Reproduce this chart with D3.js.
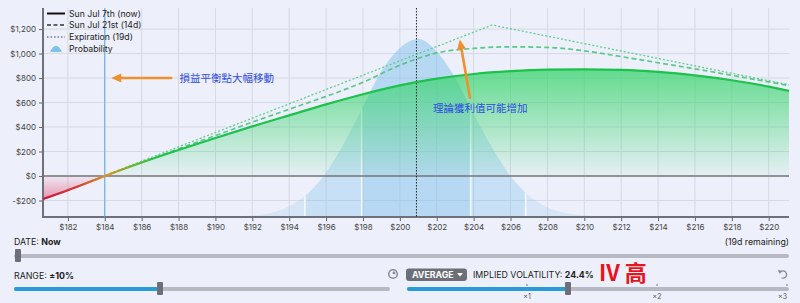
<!DOCTYPE html>
<html>
<head>
<meta charset="utf-8">
<script src="https://cdn.jsdelivr.net/npm/d3@7/dist/d3.min.js"></script>
<style>
  body { margin: 0; background: #edf0fa; font-family: Inter, "Noto Sans", sans-serif; }
  svg { display: block; }
</style>
</head>
<body>
<svg id="chart" width="800" height="303"></svg>
<script>
// P&L (USD)
const prices = [180.65, 182, 184, 186, 188, 190, 192, 194, 196, 198, 200, 202, 204, 206, 208, 210, 212, 214, 216, 218, 220, 221.1];
const pnlNow = [-188, -116, 0, 110, 212, 310, 405, 495, 585, 668, 740, 795, 833, 856, 868, 870, 866, 850, 822, 782, 730, 695];
const pnl14d = [-188, -114, 0, 112, 222, 330, 440, 545, 650, 765, 905, 1005, 1042, 1055, 1050, 1022, 975, 925, 875, 822, 768, 738];
const expPrices = [180.65, 205, 221.1];
const pnlExp = [-192, 1233, 745];

// probability curve (relative height)
const probPrices = [191, 192, 193, 194, 195, 196, 197, 198, 199, 200, 201, 202, 203, 204, 205, 206, 207, 208, 209, 210, 211];
const probValues = [0.003, 0.008, 0.022, 0.06, 0.13, 0.25, 0.42, 0.62, 0.82, 0.95, 1.0, 0.93, 0.78, 0.58, 0.39, 0.23, 0.12, 0.055, 0.022, 0.008, 0.003];
const bandEdges = [194.85, 197.93, 203.84, 206.82];

const xTicks = [182, 184, 186, 188, 190, 192, 194, 196, 198, 200, 202, 204, 206, 208, 210, 212, 214, 216, 218, 220];
const yTicks = [-200, 0, 200, 400, 600, 800, 1000, 1200];
const xDomain = [180.65, 221.1];
const yDomain = [-335, 1372];
const spotPrice = 200.9;
const breakEven = 184;
const legendLabels = ['Sun Jul 7th (now)', 'Sun Jul 21st (14d)', 'Expiration (19d)', 'Probability'];

const pL = 43, pR = 789, pT = 8, pB = 217;

const svg = d3.select('#chart');
const defs = svg.append('defs');

const x = d3.scaleLinear().domain(xDomain).range([pL, pR]);
const y = d3.scaleLinear().domain(yDomain).range([pB, pT]);
const yp = d3.scaleLinear().domain([0, 1]).range([pB, 39]);

const nowData = prices.map((p, i) => ({p, v: pnlNow[i]}));
const d14Data = prices.map((p, i) => ({p, v: pnl14d[i]}));
const expData = expPrices.map((p, i) => ({p, v: pnlExp[i]}));
const probData = probPrices.map((p, i) => ({p, v: probValues[i]}));

// grid
const grid = svg.append('g');
grid.selectAll('.gx').data(xTicks).enter().append('line')
  .attr('x1', d => x(d)).attr('x2', d => x(d))
  .attr('y1', pT).attr('y2', pB)
  .attr('stroke', '#d6d9e6').attr('stroke-width', 1);
grid.selectAll('.gy').data(yTicks).enter().append('line')
  .attr('x1', pL).attr('x2', pR)
  .attr('y1', d => y(d)).attr('y2', d => y(d))
  .attr('stroke', '#d6d9e6').attr('stroke-width', 1);

// probability distribution
const probArea = d3.area()
  .x(d => x(d.p)).y0(pB).y1(d => yp(d.v))
  .curve(d3.curveMonotoneX);
defs.append('clipPath').attr('id', 'probClip')
  .append('path').attr('d', probArea(probData));

const bands = [
  [xDomain[0], bandEdges[0], 0.2],
  [bandEdges[0], bandEdges[1], 0.34],
  [bandEdges[1], bandEdges[2], 0.5],
  [bandEdges[2], bandEdges[3], 0.34],
  [bandEdges[3], xDomain[1], 0.2]
];
const prob = svg.append('g').attr('clip-path', 'url(#probClip)');
prob.selectAll('rect').data(bands).enter().append('rect')
  .attr('x', d => x(d[0])).attr('width', d => x(d[1]) - x(d[0]))
  .attr('y', pT).attr('height', pB - pT)
  .attr('fill', '#7fc0ea').attr('fill-opacity', d => d[2]);
prob.selectAll('line').data(bandEdges).enter().append('line')
  .attr('x1', d => x(d)).attr('x2', d => x(d))
  .attr('y1', pT).attr('y2', pB)
  .attr('stroke', '#fff').attr('stroke-width', 1.5).attr('stroke-opacity', 0.85);

// P&L fill
const gGreen = defs.append('linearGradient').attr('id', 'greenFill')
  .attr('gradientUnits', 'userSpaceOnUse')
  .attr('x1', 0).attr('x2', 0).attr('y1', y(870)).attr('y2', y(0));
gGreen.append('stop').attr('offset', 0).attr('stop-color', '#35d46a').attr('stop-opacity', 0.75);
gGreen.append('stop').attr('offset', 1).attr('stop-color', '#35d46a').attr('stop-opacity', 0.04);
const gRed = defs.append('linearGradient').attr('id', 'redFill')
  .attr('gradientUnits', 'userSpaceOnUse')
  .attr('x1', 0).attr('x2', 0).attr('y1', y(0)).attr('y2', y(-190));
gRed.append('stop').attr('offset', 0).attr('stop-color', '#e8305a').attr('stop-opacity', 0.04);
gRed.append('stop').attr('offset', 1).attr('stop-color', '#e0204f').attr('stop-opacity', 0.45);

defs.append('clipPath').attr('id', 'posClip').append('rect')
  .attr('x', pL).attr('y', pT).attr('width', pR - pL).attr('height', y(0) - pT);
defs.append('clipPath').attr('id', 'negClip').append('rect')
  .attr('x', pL).attr('y', y(0)).attr('width', pR - pL).attr('height', pB - y(0));

const pnlArea = d3.area()
  .x(d => x(d.p)).y0(y(0)).y1(d => y(d.v))
  .curve(d3.curveMonotoneX);
svg.append('path').attr('d', pnlArea(nowData))
  .attr('fill', 'url(#greenFill)').attr('clip-path', 'url(#posClip)');
svg.append('path').attr('d', pnlArea(nowData))
  .attr('fill', 'url(#redFill)').attr('clip-path', 'url(#negClip)');

// axes
const fmtY = d => (d < 0 ? '-' : '') + '$' + d3.format(',')(Math.abs(d));
const yAxis = svg.append('g').attr('transform', `translate(${pL},0)`)
  .call(d3.axisLeft(y).tickValues(yTicks).tickFormat(fmtY).tickSize(4).tickPadding(3));
const xAxis = svg.append('g').attr('transform', `translate(0,${pB})`)
  .call(d3.axisBottom(x).tickValues(xTicks).tickFormat(d => '$' + d).tickSize(4).tickPadding(3));
[xAxis, yAxis].forEach(a => {
  a.select('.domain').remove();
  a.selectAll('line').attr('stroke', '#666');
  a.selectAll('text').attr('fill', '#444').style('font-size', '8px').style('font-family', 'Inter, sans-serif');
});

svg.append('line').attr('x1', pL).attr('x2', pR).attr('y1', y(0)).attr('y2', y(0))
  .attr('stroke', '#777').attr('stroke-width', 1.5);
svg.append('line').attr('x1', pL).attr('x2', pL).attr('y1', pT).attr('y2', pB + 1)
  .attr('stroke', '#6f7178').attr('stroke-width', 2);
svg.append('line').attr('x1', pL).attr('x2', pR).attr('y1', pB).attr('y2', pB)
  .attr('stroke', '#6f7178').attr('stroke-width', 2);

// break-even and spot lines
svg.append('line').attr('x1', x(breakEven)).attr('x2', x(breakEven))
  .attr('y1', pT).attr('y2', pB)
  .attr('stroke', '#5aa8dc').attr('stroke-width', 1);
svg.append('line').attr('x1', x(spotPrice)).attr('x2', x(spotPrice))
  .attr('y1', pT).attr('y2', pB)
  .attr('stroke', '#222').attr('stroke-width', 1).attr('stroke-dasharray', '1.5,1.5');

// lines
const line = d3.line().x(d => x(d.p)).y(d => y(d.v)).curve(d3.curveMonotoneX);
svg.append('path').attr('d', d3.line().x(d => x(d.p)).y(d => y(d.v))(expData))
  .attr('fill', 'none').attr('stroke', '#5fcf8f').attr('stroke-width', 1.3)
  .attr('stroke-dasharray', '2,2');
svg.append('path').attr('d', line(d14Data))
  .attr('fill', 'none').attr('stroke', '#4cc47c').attr('stroke-width', 1.7)
  .attr('stroke-dasharray', '5,3').attr('stroke-opacity', 0.9);

const gLine = defs.append('linearGradient').attr('id', 'lineGrad')
  .attr('gradientUnits', 'userSpaceOnUse')
  .attr('x1', pL).attr('x2', x(187)).attr('y1', 0).attr('y2', 0);
[[0, '#d40c3c'], [0.3, '#dc3a34'], [0.55, '#e0951e'], [0.78, '#66b834'], [1, '#1cc24c']]
  .forEach(s => gLine.append('stop').attr('offset', s[0]).attr('stop-color', s[1]));
svg.append('path').attr('d', line(nowData))
  .attr('fill', 'none').attr('stroke', 'url(#lineGrad)').attr('stroke-width', 2.2);

// legend
const legend = svg.append('g').attr('transform', 'translate(47,0)');
const legendY = [13.5, 25, 37, 48.5];
const dashes = [null, '4,2.5', '1.5,2'];
const legendColors = ['#111', '#333', '#777'];
legendLabels.forEach((t, i) => {
  if (i < 3) {
    legend.append('line').attr('x1', 0).attr('x2', 18).attr('y1', legendY[i]).attr('y2', legendY[i])
      .attr('stroke', legendColors[i]).attr('stroke-width', i === 0 ? 2 : 1.6)
      .attr('stroke-dasharray', dashes[i]);
  } else {
    legend.append('path')
      .attr('d', `M3,${legendY[i] + 3.5} Q9,${legendY[i] - 9} 15,${legendY[i] + 3.5} Z`)
      .attr('fill', '#7cc3ec');
  }
  legend.append('text').attr('x', 22).attr('y', legendY[i]).attr('dy', '0.35em')
    .attr('fill', '#222').style('font-size', '8.7px').text(t);
});

// annotations
function arrow(x1, y1, x2, y2) {
  const dx = x2 - x1, dy = y2 - y1, len = Math.hypot(dx, dy);
  const ux = dx / len, uy = dy / len;
  const bx = x2 - ux * 10, by = y2 - uy * 10;
  svg.append('line').attr('x1', x1).attr('y1', y1).attr('x2', bx).attr('y2', by)
    .attr('stroke', '#f0902c').attr('stroke-width', 2.6).attr('stroke-linecap', 'round');
  svg.append('path')
    .attr('d', `M${x2},${y2} L${bx - uy * 4.5},${by + ux * 4.5} L${bx + uy * 4.5},${by - ux * 4.5} Z`)
    .attr('fill', '#f0902c');
}
arrow(x(187.6), y(800), x(184.35), y(800));
svg.append('text').attr('x', x(188.05)).attr('y', y(800)).attr('dy', '0.35em')
  .attr('fill', '#2f4be0').style('font-family', '"Noto Sans CJK TC", sans-serif')
  .style('font-size', '10.5px').text('損益平衡點大幅移動');
arrow(x(203.8), y(640), x(203.25), y(1115));
svg.append('text').attr('x', x(201.8)).attr('y', y(555)).attr('dy', '0.35em')
  .attr('fill', '#2f4be0').style('font-family', '"Noto Sans CJK TC", sans-serif')
  .style('font-size', '10.5px').text('理論獲利值可能增加');

// controls
const ctl = svg.append('g').style('font-size', '8.8px').attr('fill', '#222');
function slider(x0, x1, yc, fillTo, thumb) {
  ctl.append('rect').attr('x', x0).attr('y', yc - 2).attr('width', x1 - x0).attr('height', 4)
    .attr('rx', 2).attr('fill', '#b6b9c2');
  if (fillTo) ctl.append('rect').attr('x', x0).attr('y', yc - 2).attr('width', fillTo - x0).attr('height', 4)
    .attr('rx', 2).attr('fill', '#2a9bd9');
  ctl.append('rect').attr('x', thumb).attr('y', yc - 7).attr('width', 6).attr('height', 13)
    .attr('rx', 1).attr('fill', '#6c6f77');
}
const t1 = ctl.append('text').attr('x', 14).attr('y', 242).attr('dy', '0.35em');
t1.append('tspan').text('DATE: ');
t1.append('tspan').attr('font-weight', 700).text('Now');
ctl.append('text').attr('x', 789).attr('y', 242).attr('dy', '0.35em').attr('text-anchor', 'end')
  .text('(19d remaining)');
slider(14, 789, 256, null, 15);

const t2 = ctl.append('text').attr('x', 14).attr('y', 275.5).attr('dy', '0.35em');
t2.append('tspan').text('RANGE: ');
t2.append('tspan').attr('font-weight', 700).text('±10%');
slider(14, 390, 289, 158, 157);

// refresh icon
ctl.append('circle').attr('cx', 393).attr('cy', 274).attr('r', 4.3)
  .attr('fill', 'none').attr('stroke', '#8a8d95').attr('stroke-width', 1.6);
ctl.append('circle').attr('cx', 394).attr('cy', 273).attr('r', 1.4).attr('fill', '#8a8d95');

ctl.append('rect').attr('x', 406).attr('y', 268.5).attr('width', 61).attr('height', 12.5)
  .attr('rx', 3).attr('fill', '#6c6f77');
ctl.append('text').attr('x', 412).attr('y', 275).attr('dy', '0.35em').attr('fill', '#fff')
  .attr('font-weight', 700).style('font-size', '8.8px').text('AVERAGE');
ctl.append('path').attr('d', 'M457,273 L463,273 L460,276.5 Z').attr('fill', '#fff');

const t3 = ctl.append('text').attr('x', 473).attr('y', 275).attr('dy', '0.35em');
t3.append('tspan').text('IMPLIED VOLATILITY: ');
t3.append('tspan').attr('font-weight', 700).text('24.4%');
ctl.append('text').attr('x', 599).attr('y', 273).attr('dy', '0.36em').attr('fill', '#e8141c')
  .attr('font-weight', 700).style('font-size', '22px')
  .style('font-family', '"Noto Sans CJK TC", sans-serif').text('IV 高');

// reset icon
ctl.append('path').attr('d', d3.arc()({innerRadius: 3.6, outerRadius: 3.6, startAngle: -1.2, endAngle: 3.6}))
  .attr('transform', 'translate(783,274.5)').attr('fill', 'none')
  .attr('stroke', '#8a8d95').attr('stroke-width', 1.3);
ctl.append('path').attr('d', 'M777.6,270 L781.4,270.4 L779.6,273.4 Z').attr('fill', '#8a8d95');

slider(407, 789, 289, 566, 565);
const ivTicks = [['×1', 527], ['×2', 657], ['×3', 787]];
ivTicks.forEach(d => {
  ctl.append('circle').attr('cx', d[1]).attr('cy', 285).attr('r', 0.8).attr('fill', '#666');
  ctl.append('text').attr('x', d[1]).attr('y', 296.5).attr('dy', '0.35em')
    .attr('text-anchor', d[1] > 780 ? 'end' : 'middle').attr('fill', '#555')
    .style('font-size', '7px').text(d[0]);
});
</script>
</body>
</html>
